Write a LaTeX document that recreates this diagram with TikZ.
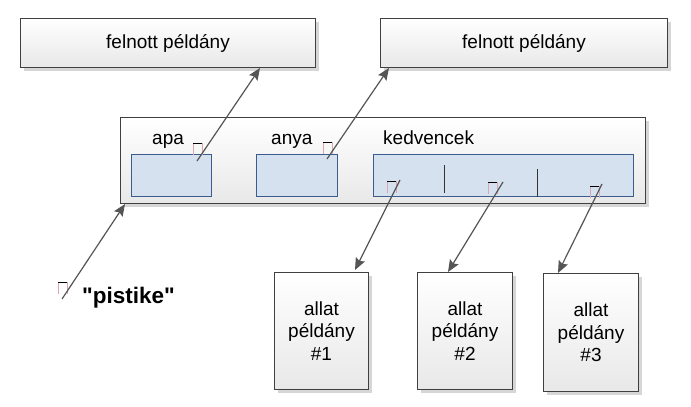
\documentclass[tikz,border=0pt]{standalone}
\usepackage{fontspec}
\setmainfont{Liberation Sans}
\newfontfamily\rawsans{Liberation Sans}
\usetikzlibrary{arrows.meta,shadows}
\definecolor{boxline}{HTML}{404040}
\definecolor{fieldfill}{HTML}{D5E1EF}
\definecolor{fieldline}{HTML}{3B5C8C}
\definecolor{ptrcol}{HTML}{555555}
\definecolor{glyphside}{HTML}{D8A8B0}
\begin{document}
\begin{tikzpicture}[x=1pt,y=-1pt,
  obj/.style={draw=boxline, line width=1pt, top color=white, bottom color=black!9,
    anchor=north west, inner sep=0pt, align=center,
    font=\fontsize{19}{22.5}\selectfont,
    drop shadow={shadow xshift=3pt, shadow yshift=-3pt, fill=black!16, opacity=1}},
  fieldbox/.style={draw=fieldline, line width=1pt, fill=fieldfill, anchor=north west, inner sep=0pt},
  lbl/.style={font=\fontsize{19}{22.5}\selectfont, inner sep=0pt, anchor=base west},
  ptr/.style={draw=ptrcol, line width=1.2pt, -{Stealth[length=12pt,width=10pt,inset=2pt]}},
  divider/.style={draw=black!80, line width=0.8pt},
  glyphtop/.style={draw=black, line width=0.8pt},
  glyphsides/.style={draw=glyphside, line width=0.6pt}
]
\useasboundingbox (0,0) rectangle (691,407);
\fill[white] (0,0) rectangle (691,407);

% top objects
\node[obj, minimum width=295pt, minimum height=49pt] (f1) at (20,18) {felnott példány};
\node[obj, minimum width=287pt, minimum height=49pt] (f2) at (380,18) {felnott példány};

% container
\node[obj, minimum width=525pt, minimum height=86pt] (cont) at (120,117) {};
\node[lbl] (lapa) at (152,144) {apa};
\node[lbl] (lanya) at (271,144) {anya};
\node[lbl] (lkedv) at (383,144) {kedvencek};
\node[fieldbox, minimum width=80pt, minimum height=42pt] (apa) at (131,154) {};
\node[fieldbox, minimum width=81pt, minimum height=42pt] (anya) at (256,154) {};
\node[fieldbox, minimum width=260pt, minimum height=42pt] (kedv) at (373,154) {};
\draw[divider] (444,165) -- (444,193);
\draw[divider] (537,169) -- (537,197);

% bottom objects
\node[obj, minimum width=94pt, minimum height=117pt] (a1) at (274,272) {allat\\példány\\\#1};
\node[obj, minimum width=95pt, minimum height=117pt] (a2) at (417,272) {allat\\példány\\\#2};
\node[obj, minimum width=95pt, minimum height=118pt] (a3) at (543,273) {allat\\példány\\\#3};

% pistike
\node[inner sep=0pt, anchor=base west, font=\rawsans\bfseries\fontsize{22.5}{26}\selectfont] (pist) at (82,303) {"pistike"};

% missing-glyph boxes
\foreach \gx/\gy in {193/143, 323/142, 387/181, 488/182, 590/186, 58/282} {
  \draw[glyphsides] (\gx,\gy+12) -- (\gx,\gy) (\gx+9,\gy) -- (\gx+9,\gy+12);
  \draw[glyphtop] (\gx,\gy) -- (\gx+9,\gy);
}

% pointer coordinates
\coordinate (sApa) at (197,161);
\coordinate (tApa) at (260,68);
\coordinate (sAnya) at (327,159);
\coordinate (tAnya) at (389,68);
\coordinate (sK1) at (400,180);
\coordinate (tK1) at (355,270);
\coordinate (sK2) at (503,182);
\coordinate (tK2) at (448,272);
\coordinate (sK3) at (602,184);
\coordinate (tK3) at (558,273);
\coordinate (sP) at (62,299);
\coordinate (tP) at (125,204);

\draw[ptr] (sApa) -- (tApa);
\draw[ptr] (sAnya) -- (tAnya);
\draw[ptr] (sK1) -- (tK1);
\draw[ptr] (sK2) -- (tK2);
\draw[ptr] (sK3) -- (tK3);
\draw[ptr] (sP) -- (tP);
\end{tikzpicture}
\end{document}
